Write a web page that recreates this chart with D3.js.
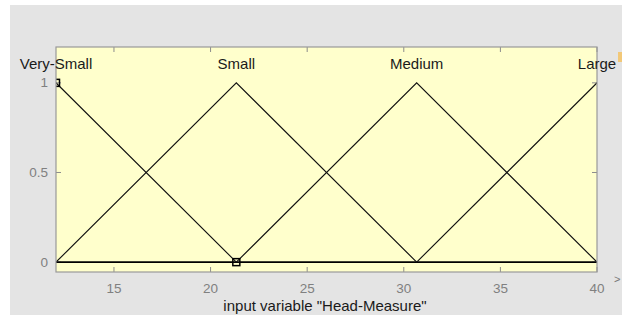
<!DOCTYPE html>
<html>
<head>
<meta charset="utf-8">
<script src="https://cdn.jsdelivr.net/npm/d3@7"></script>
<style>
body { margin: 0; background: #fff; }
text { font-family: Arial, "Liberation Sans", sans-serif; }
</style>
</head>
<body>
<svg id="svg_mf" width="622" height="315"></svg>
<script>
// membership functions of input variable "Head-Measure" (trimf params)
var mfNames = ["Very-Small", "Small", "Medium", "Large"];
var mfParams = [
	[2.667, 12, 21.333],
	[12, 21.333, 30.667],
	[21.333, 30.667, 40],
	[30.667, 40, 49.333]
];
var xTicks = [15, 20, 25, 30, 35, 40];
var yTicks = [0, 0.5, 1];
var markerPoints = [[12, 1], [21.333, 0]];

var svg = d3.select("#svg_mf"),
	margin = {left: 56, right: 25, top: 47, bottom: 43};
var width = +svg.attr("width"), height = +svg.attr("height");

svg.append("rect").attr("x", 10).attr("y", 5)
	.attr("width", width - 10).attr("height", height - 5)
	.attr("fill", "#e4e4e4");

var x = d3.scaleLinear().domain([12, 40]).range([margin.left, width - margin.right]);
var y = d3.scaleLinear().domain([-0.055, 1.2]).range([height - margin.bottom, margin.top]);

svg.append("clipPath").attr("id", "clip").append("rect")
	.attr("x", x.range()[0]).attr("y", y.range()[1])
	.attr("width", x.range()[1] - x.range()[0])
	.attr("height", y.range()[0] - y.range()[1]);

svg.append("rect")
	.attr("x", x.range()[0]).attr("y", y.range()[1])
	.attr("width", x.range()[1] - x.range()[0])
	.attr("height", y.range()[0] - y.range()[1])
	.attr("fill", "#ffffcc");

var tickColor = "#8c8c8c";
var g_ticks = svg.append("g");
xTicks.forEach(function(t) {
	g_ticks.append("line").attr("x1", x(t)).attr("x2", x(t))
		.attr("y1", y.range()[0]).attr("y2", y.range()[0] - 5)
		.attr("stroke", tickColor);
	g_ticks.append("line").attr("x1", x(t)).attr("x2", x(t))
		.attr("y1", y.range()[1]).attr("y2", y.range()[1] + 5)
		.attr("stroke", tickColor);
	g_ticks.append("text").attr("x", x(t)).attr("y", 293)
		.attr("text-anchor", "middle").attr("font-size", 13.5)
		.attr("fill", "#808080").text(t);
});
yTicks.forEach(function(t) {
	g_ticks.append("line").attr("x1", x.range()[0]).attr("x2", x.range()[0] + 5)
		.attr("y1", y(t)).attr("y2", y(t)).attr("stroke", tickColor);
	g_ticks.append("line").attr("x1", x.range()[1]).attr("x2", x.range()[1] - 5)
		.attr("y1", y(t)).attr("y2", y(t)).attr("stroke", tickColor);
	g_ticks.append("text").attr("x", 48).attr("y", y(t) + 4.5)
		.attr("text-anchor", "end").attr("font-size", 13.5)
		.attr("fill", "#808080").text(t);
});

var g_line = svg.append("g").attr("clip-path", "url(#clip)");
g_line.append("line")
	.attr("x1", x(12)).attr("x2", x(40)).attr("y1", y(0)).attr("y2", y(0))
	.attr("stroke", "#000").attr("stroke-width", 1.6);

var line = d3.line()
	.x(function(d) { return x(d[0]); })
	.y(function(d) { return y(d[1]); });

for (var i = 0; i < mfParams.length; ++i) {
	var p = mfParams[i];
	g_line.append("path")
		.attr("d", line([[p[0], 0], [p[1], 1], [p[2], 0]]))
		.attr("fill", "none").attr("stroke", "#111").attr("stroke-width", 1.15);
}

g_line.selectAll("rect.marker").data(markerPoints).enter().append("rect")
	.attr("class", "marker")
	.attr("x", function(d) { return x(d[0]) - 3.5; })
	.attr("y", function(d) { return y(d[1]) - 3.5; })
	.attr("width", 7).attr("height", 7)
	.attr("fill", "none").attr("stroke", "#000").attr("stroke-width", 1.5);

// axes border
svg.append("rect")
	.attr("x", x.range()[0]).attr("y", y.range()[1])
	.attr("width", x.range()[1] - x.range()[0])
	.attr("height", y.range()[0] - y.range()[1])
	.attr("fill", "none").attr("stroke", "#999").attr("stroke-width", 1.2);

svg.selectAll("text.mf").data(mfNames).enter().append("text")
	.attr("class", "mf")
	.attr("x", function(d, i) { return x(mfParams[i][1]); })
	.attr("y", 69)
	.attr("text-anchor", "middle").attr("font-size", 15)
	.attr("fill", "#1a1a1a")
	.text(function(d) { return d; });

svg.append("text").attr("x", 325).attr("y", 311)
	.attr("text-anchor", "middle").attr("font-size", 15)
	.attr("fill", "#1a1a1a")
	.text("input variable \"Head-Measure\"");

// bits of the neighbouring panel at the right edge
svg.append("rect").attr("x", 618).attr("y", 52).attr("width", 4).attr("height", 10)
	.attr("fill", "#f2c878");
svg.append("text").attr("x", 614).attr("y", 283).attr("font-size", 11)
	.attr("fill", "#777").text(">");
</script>
</body>
</html>
